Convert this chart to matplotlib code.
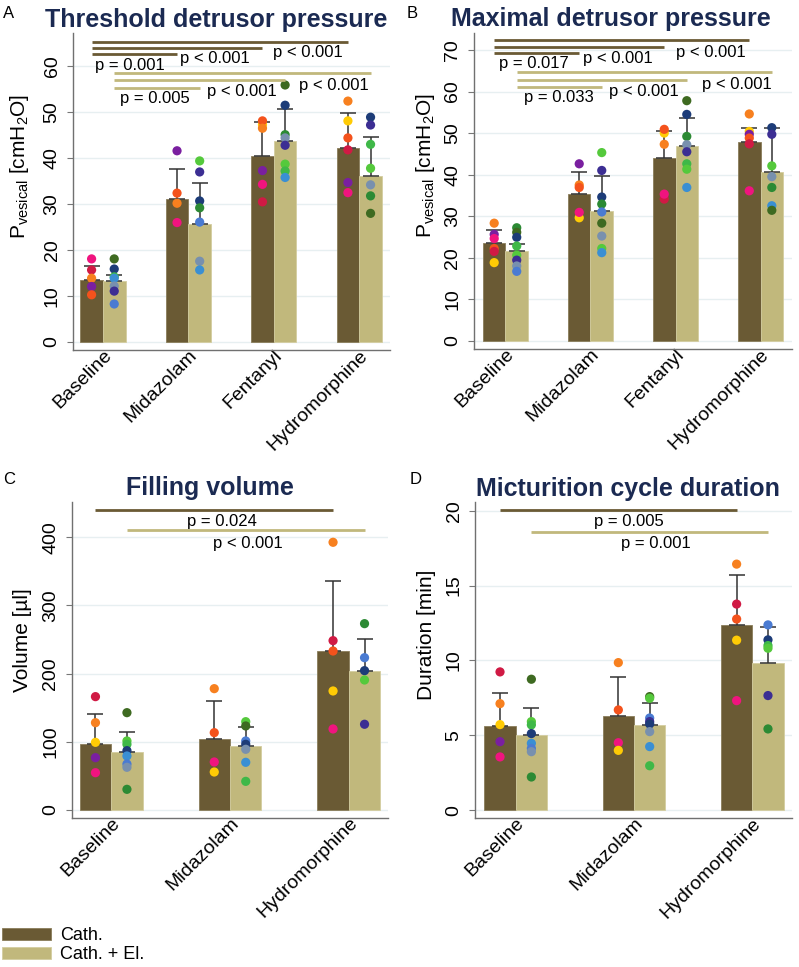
import matplotlib
matplotlib.use("Agg")
import matplotlib.pyplot as plt
from matplotlib.patches import Patch
from matplotlib.transforms import ScaledTranslation
import numpy as np

plt.rcParams['font.family'] = ['Liberation Sans', 'DejaVu Sans']
plt.rcParams['mathtext.fontset'] = 'custom'
plt.rcParams['mathtext.rm'] = 'Liberation Sans'
plt.rcParams['mathtext.default'] = 'regular'

# ---------------- data ----------------
cond4 = ["Baseline", "Midazolam", "Fentanyl", "Hydromorphine"]
cond3 = ["Baseline", "Midazolam", "Hydromorphine"]
series_labels = ["Cath.", "Cath. + El."]

# Panel A: threshold detrusor pressure (cmH2O)
A_cath_mean = [13.5, 31.1, 40.4, 42.0]
A_cath_sem = [2.9, 6.5, 7.3, 7.8]
A_el_mean = [13.1, 25.5, 43.7, 36.1]
A_el_sem = [1.3, 9.1, 6.8, 8.5]
A_cath_dots = [
    [(18.0, 'pk'), (15.6, 'cr'), (13.8, 'or'), (12.0, 'pu'), (10.2, 'rd')],
    [(41.5, 'pu'), (32.3, 'rd'), (30.1, 'or'), (25.9, 'pk')],
    [(47.2, 'ye'), (48.0, 'rd'), (46.4, 'or'), (37.2, 'pu'), (34.2, 'pk'), (30.4, 'cr')],
    [(52.3, 'or'), (48.0, 'ye'), (44.3, 'rd'), (41.7, 'cr'), (34.6, 'pu'), (32.4, 'pk')],
]
A_el_dots = [
    [(18.0, 'dg'), (15.8, 'nv'), (14.1, 'gr'), (13.8, 'lb'), (12.1, 'gb'), (11.0, 'iv'), (8.2, 'bl')],
    [(39.3, 'lg'), (36.9, 'iv'), (30.6, 'nv'), (29.1, 'fg'), (26.0, 'bl'), (17.5, 'gb'), (15.6, 'lb')],
    [(55.8, 'dg'), (51.4, 'nv'), (45.0, 'fg'), (44.3, 'gb'), (42.7, 'iv'), (38.6, 'lg'), (37.1, 'gr'), (35.7, 'lb')],
    [(48.8, 'nv'), (47.1, 'iv'), (42.9, 'gr'), (37.7, 'lg'), (34.1, 'gb'), (31.7, 'fg'), (27.9, 'dg')],
]
A_pvals = ["p = 0.001", "p < 0.001", "p < 0.001", "p = 0.005", "p < 0.001", "p < 0.001"]

# Panel B: maximal detrusor pressure (cmH2O)
B_cath_mean = [23.5, 35.4, 44.1, 47.8]
B_cath_sem = [3.2, 5.3, 6.5, 3.5]
B_el_mean = [21.6, 31.3, 46.8, 40.7]
B_el_sem = [1.8, 8.4, 6.9, 10.5]
B_cath_dots = [
    [(28.3, 'or'), (25.6, 'pu'), (24.6, 'pk'), (22.2, 'rd'), (21.5, 'cr'), (18.8, 'ye')],
    [(42.6, 'pu'), (37.5, 'or'), (36.9, 'rd'), (29.6, 'ye'), (30.9, 'pk')],
    [(50.0, 'ye'), (50.9, 'rd'), (47.3, 'or'), (34.1, 'cr'), (35.3, 'pk')],
    [(54.6, 'or'), (50.4, 'ye'), (49.7, 'pu'), (48.8, 'rd'), (47.4, 'cr'), (36.1, 'pk')],
]
B_el_dots = [
    [(27.2, 'fg'), (26.1, 'dg'), (24.9, 'nv'), (22.8, 'gr'), (20.6, 'lg'), (19.4, 'iv'), (18.0, 'gb'), (16.7, 'bl')],
    [(45.3, 'lg'), (41.0, 'iv'), (34.6, 'nv'), (32.9, 'fg'), (31.0, 'bl'), (28.3, 'dg'), (25.2, 'gb'), (22.2, 'lg'), (21.2, 'lb')],
    [(57.8, 'dg'), (54.5, 'nv'), (49.2, 'fg'), (47.2, 'gb'), (45.5, 'iv'), (42.6, 'gr'), (41.3, 'lg'), (36.9, 'lb')],
    [(51.3, 'nv'), (49.7, 'iv'), (42.1, 'lg'), (39.5, 'gb'), (36.9, 'fg'), (32.5, 'lb'), (31.4, 'dg')],
]
B_pvals = ["p = 0.017", "p < 0.001", "p < 0.001", "p = 0.033", "p < 0.001", "p < 0.001"]

# Panel C: filling volume (µl)
C_cath_mean = [96.3, 104.6, 233.6]
C_cath_sem = [44.0, 55.2, 102.2]
C_el_mean = [84.6, 93.8, 203.8]
C_el_sem = [29.3, 28.0, 47.4]
C_cath_dots = [
    [(166.2, 'cr'), (128.0, 'or'), (99.2, 'ye'), (76.7, 'pu'), (54.7, 'pk')],
    [(177.9, 'or'), (113.4, 'rd'), (70.4, 'pk'), (55.7, 'ye')],
    [(392.5, 'or'), (248.3, 'cr'), (233.1, 'rd'), (174.5, 'ye'), (118.8, 'pk')],
]
C_el_dots = [
    [(142.7, 'dg'), (101.2, 'lg'), (96.3, 'gr'), (87.0, 'nv'), (79.2, 'lb'), (67.4, 'bl'), (62.6, 'gb'), (30.3, 'fg')],
    [(129.5, 'lg'), (123.2, 'dg'), (101.2, 'bl'), (96.3, 'nv'), (89.0, 'gb'), (69.9, 'lb'), (42.0, 'gr')],
    [(273.2, 'fg'), (223.3, 'bl'), (204.3, 'nv'), (190.6, 'lg'), (125.7, 'iv')],
]
C_pvals = ["p = 0.024", "p < 0.001"]

# Panel D: micturition cycle duration (min)
D_cath_mean = [5.64, 6.29, 12.33]
D_cath_sem = [2.21, 2.63, 3.34]
D_el_mean = [5.0, 5.67, 9.81]
D_el_sem = [1.8, 1.51, 2.4]
D_cath_dots = [
    [(9.23, 'cr'), (7.11, 'or'), (5.71, 'ye'), (4.57, 'pu'), (3.55, 'pk')],
    [(9.85, 'or'), (6.69, 'rd'), (4.50, 'pk'), (3.99, 'ye')],
    [(16.43, 'or'), (13.76, 'cr'), (12.76, 'rd'), (11.35, 'ye'), (7.31, 'pk')],
]
D_el_dots = [
    [(8.74, 'dg'), (5.91, 'lg'), (5.69, 'gr'), (5.11, 'nv'), (4.46, 'lb'), (4.12, 'bl'), (3.90, 'gb'), (2.21, 'fg')],
    [(7.58, 'dg'), (7.47, 'lg'), (6.15, 'bl'), (5.91, 'iv'), (5.75, 'nv'), (5.24, 'gb'), (4.24, 'lb'), (2.96, 'gr')],
    [(12.37, 'bl'), (11.37, 'nv'), (10.99, 'gr'), (10.81, 'lg'), (7.65, 'iv'), (5.42, 'fg')],
]
D_pvals = ["p = 0.005", "p = 0.001"]

# ---------------- styles ----------------
CATH = '#6a5a34'
EL = '#c1b87c'
TITLE_C = '#1b2a52'
animal_colors = {
    'pk': '#f0147f', 'cr': '#d01a44', 'or': '#f7801f', 'rd': '#f4521c',
    'pu': '#7a1fa0', 'ye': '#ffcb05',
    'dg': '#3e6a21', 'nv': '#1d3c78', 'fg': '#2c8a34', 'lg': '#55c93c',
    'gr': '#3fb848', 'lb': '#3a8fd3', 'gb': '#7890ae', 'iv': '#3c2e93',
    'bl': '#4a7bd2',
}

W = 799
H = 967
fig = plt.figure(figsize=(W / 100, H / 100), dpi=100)


def px_rect(l, t, r, b):
    return [l / W, 1 - b / H, (r - l) / W, (b - t) / H]


BW = 0.265


def draw_panel(ax, cats, cm, cs, em, es, cdots, edots, ylim, xlim, yticks,
               ylabel, ylabel_pos, sig, pvals):
    x = np.arange(len(cats))
    xc = x - BW / 2
    xe = x + BW / 2
    ax.bar(xc, cm, width=BW, color=CATH, edgecolor='#8a7d5a', linewidth=0.6, zorder=2)
    ax.bar(xe, em, width=BW, color=EL, edgecolor='#d4cda0', linewidth=0.6, zorder=2)
    ax.errorbar(xc, cm, yerr=[np.zeros(len(cm)), cs], fmt='none', ecolor='#333333',
                elinewidth=1.1, capsize=6, capthick=1.1, zorder=3)
    ax.errorbar(xe, em, yerr=[np.zeros(len(em)), es], fmt='none', ecolor='#333333',
                elinewidth=1.1, capsize=6, capthick=1.1, zorder=3)
    for xs, dots in ((xc, cdots), (xe, edots)):
        for i, grp in enumerate(dots):
            vals = [v for v, c in grp]
            cols = [animal_colors[c] for v, c in grp]
            ax.scatter([xs[i]] * len(vals), vals, s=44, c=cols, linewidths=0, zorder=4)
    # significance lines
    for k, (ser, i, j, yl, tx, ty) in enumerate(sig):
        xs = xc if ser == 0 else xe
        ax.plot([xs[i], xs[j]], [yl, yl], color=CATH if ser == 0 else EL,
                lw=2.0, solid_capstyle='butt', zorder=5)
        ax.text(tx, ty, pvals[k], ha='left', va='center', fontsize=12, zorder=6)
    ax.set_xlim(*xlim)
    ax.set_ylim(*ylim)
    ax.set_yticks(yticks)
    ax.set_xticks(x)
    ax.set_xticklabels(cats, rotation=45, ha='right', va='center',
                       rotation_mode='anchor', fontsize=14)
    ax.tick_params(axis='x', length=0, pad=2)
    shift = ScaledTranslation(6 / 100, 0, fig.dpi_scale_trans)
    for lab in ax.get_xticklabels():
        lab.set_transform(lab.get_transform() + shift)
    ax.tick_params(axis='y', length=4, width=0.8, color='#777777', pad=5, labelsize=14)
    for lab in ax.get_yticklabels():
        lab.set_rotation(90)
        lab.set_va('center')
    ax.yaxis.grid(True, color='#e7eff1', lw=1.0)
    ax.set_axisbelow(True)
    for s in ('top', 'right'):
        ax.spines[s].set_visible(False)
    for s in ('left', 'bottom'):
        ax.spines[s].set_color('#707070')
        ax.spines[s].set_linewidth(1.0)
    ax.set_ylabel(ylabel, fontsize=15)
    ax.yaxis.set_label_coords(*ylabel_pos)


pres_label = r'P$_{\mathregular{vesical}}$ [cmH$_{\mathregular{2}}$O]'

axA = fig.add_axes(px_rect(73, 33, 390, 350))
draw_panel(axA, cond4, A_cath_mean, A_cath_sem, A_el_mean, A_el_sem,
           A_cath_dots, A_el_dots, (-1.8, 67.1), (-0.35, 3.36), range(0, 61, 10),
           pres_label, (-0.132, 0.58),
           [(0, 0, 3, 65.2, 1.99, 62.8), (0, 0, 2, 63.9, 0.90, 61.5), (0, 0, 1, 62.6, -0.094, 60.1),
            (1, 0, 3, 58.3, 2.30, 55.6), (1, 0, 2, 56.9, 1.22, 54.3), (1, 0, 1, 55.2, 0.20, 52.9)],
           [A_pvals[2], A_pvals[1], A_pvals[0], A_pvals[5], A_pvals[4], A_pvals[3]])

axB = fig.add_axes(px_rect(474, 33, 792, 349))
draw_panel(axB, cond4, B_cath_mean, B_cath_sem, B_el_mean, B_el_sem,
           B_cath_dots, B_el_dots, (-2.0, 74.1), (-0.37, 3.37), range(0, 71, 10),
           pres_label, (-0.116, 0.58),
           [(0, 0, 3, 72.3, 2.0, 69.5), (0, 0, 2, 70.8, 0.91, 68.0), (0, 0, 1, 69.3, -0.074, 66.8),
            (1, 0, 3, 64.7, 2.31, 61.6), (1, 0, 2, 62.9, 1.22, 59.9), (1, 0, 1, 61.2, 0.22, 58.6)],
           [B_pvals[2], B_pvals[1], B_pvals[0], B_pvals[5], B_pvals[4], B_pvals[3]])

axC = fig.add_axes(px_rect(72, 501.7, 388, 817.7))
draw_panel(axC, cond3, C_cath_mean, C_cath_sem, C_el_mean, C_el_sem,
           C_cath_dots, C_el_dots, (-11.3, 452), (-0.33, 2.33), range(0, 401, 100),
           'Volume [µl]', (-0.127, 0.562),
           [(0, 0, 2, 439.9, 0.64, 422.7), (1, 0, 2, 410.6, 0.86, 391.0)],
           C_pvals)

axD = fig.add_axes(px_rect(475, 501.7, 791.7, 818.3))
draw_panel(axD, cond3, D_cath_mean, D_cath_sem, D_el_mean, D_el_sem,
           D_cath_dots, D_el_dots, (-0.55, 20.6), (-0.344, 2.333), range(0, 21, 5),
           'Duration [min]', (-0.123, 0.579),
           [(0, 0, 2, 20.05, 0.664, 19.26), (1, 0, 2, 18.57, 0.888, 17.79)],
           D_pvals)

# titles and panel letters
titles = ["Threshold detrusor pressure", "Maximal detrusor pressure",
          "Filling volume", "Micturition cycle duration"]
title_pos = [(216.5, 27), (611, 26), (210, 495), (628.3, 496)]
for t, (tx, ty) in zip(titles, title_pos):
    fig.text(tx / W, 1 - ty / H, t, ha='center', va='baseline', fontsize=18,
             fontweight='bold', color=TITLE_C)
letters = ["A", "B", "C", "D"]
letter_pos = [(3, 13), (407, 13), (3, 480), (410, 480)]
for t, (tx, ty) in zip(letters, letter_pos):
    fig.text(tx / W, 1 - ty / H, t, ha='left', va='center', fontsize=12)

# legend
handles = [Patch(facecolor=CATH, edgecolor='#8a7d5a', linewidth=0.6),
           Patch(facecolor=EL, edgecolor='#d4cda0', linewidth=0.6)]
fig.legend(handles, series_labels, loc='lower left', bbox_to_anchor=(0.003, 0.004),
           frameon=False, fontsize=13, handlelength=2.7, handleheight=0.65,
           labelspacing=0.12, borderpad=0, borderaxespad=0, handletextpad=0.5)

fig.savefig("out.png", dpi=100)
